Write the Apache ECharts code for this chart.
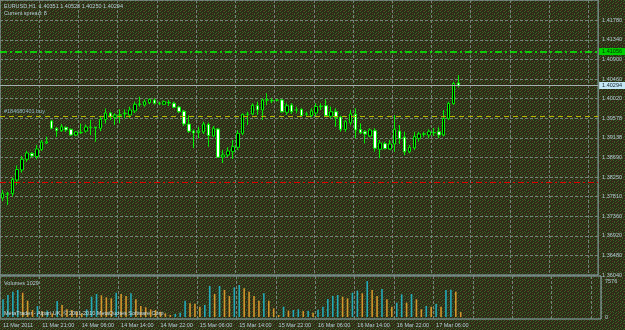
<!DOCTYPE html>
<html>
<head>
<meta charset="utf-8">
<script src="https://cdn.jsdelivr.net/npm/echarts@6/dist/echarts.min.js"></script>
<style>
html,body{margin:0;padding:0;background:#2e3118;}
#chart{width:625px;height:330px;}
</style>
</head>
<body>
<div id="chart"></div>
<script>
// ---------------- data ----------------
const SYMBOL = 'EURUSD,H1';
const SPREAD = 8;

const OPEN = [1.37769,1.37852,1.37870,1.38173,1.38398,1.38638,1.38768,1.38701,1.38858,1.39004,
1.39498,1.39334,1.39280,1.39356,1.39311,1.39183,1.39235,1.39273,1.39352,1.39358,
1.39334,1.39531,1.39677,1.39581,1.39626,1.39664,1.39632,1.39722,1.39868,1.39857,
1.39908,1.39969,1.39888,1.39873,1.39913,1.39895,1.39812,1.39715,1.39430,1.39273,
1.39235,1.39251,1.39419,1.39161,1.39318,1.38689,1.38734,1.38808,1.38907,1.39221,
1.39648,1.39655,1.39841,1.39745,1.39965,1.39958,1.39965,1.39969,1.39693,1.39857,
1.39740,1.39760,1.39648,1.39617,1.39677,1.39819,1.39841,1.39603,1.39706,1.39587,
1.39307,1.39459,1.39648,1.39307,1.39257,1.39161,1.39280,1.38862,1.38988,1.38869,
1.38981,1.39273,1.39132,1.38808,1.38891,1.39109,1.39201,1.39183,1.39230,1.39257,
1.39183,1.39549,1.39884,1.40351];

const HIGH = [1.37949,1.37910,1.38229,1.38499,1.38712,1.38831,1.38802,1.38959,1.39071,1.39145,
1.39520,1.39363,1.39430,1.39374,1.39329,1.39273,1.39441,1.39419,1.39520,1.39363,
1.39594,1.39778,1.39706,1.39670,1.39760,1.39760,1.39819,1.39931,1.40043,1.39985,
1.40003,1.40003,1.39931,1.39958,1.39969,1.39931,1.39841,1.39745,1.39621,1.39307,
1.39363,1.39482,1.39464,1.39385,1.39334,1.38847,1.38907,1.39071,1.39296,1.39670,
1.39706,1.39895,1.39931,1.40007,1.40119,1.40007,1.39985,1.39985,1.39895,1.39895,
1.39819,1.39783,1.39706,1.39783,1.39895,1.39895,1.39985,1.39819,1.39783,1.39610,
1.39520,1.39745,1.39783,1.39446,1.39296,1.39334,1.39334,1.39071,1.39033,1.39071,
1.39632,1.39408,1.39257,1.38959,1.39257,1.39257,1.39257,1.39311,1.39340,1.39356,
1.39745,1.39931,1.40380,1.40528];

const LOW = [1.37702,1.37612,1.37798,1.38061,1.38337,1.38577,1.38678,1.38644,1.38824,1.38981,
1.39311,1.39138,1.39251,1.39251,1.39161,1.39161,1.39206,1.39235,1.39183,1.39033,
1.39273,1.39441,1.39520,1.39408,1.39446,1.39558,1.39558,1.39677,1.39819,1.39819,
1.39879,1.39868,1.39857,1.39857,1.39834,1.39783,1.39677,1.39385,1.39228,1.38891,
1.39109,1.39206,1.38921,1.39132,1.38678,1.38555,1.38689,1.38644,1.38847,1.39183,
1.39408,1.39632,1.39632,1.39520,1.39857,1.39895,1.39931,1.39684,1.39632,1.39655,
1.39670,1.39594,1.39594,1.39581,1.39594,1.39745,1.39594,1.39558,1.39370,1.39257,
1.39257,1.39408,1.39109,1.39206,1.38997,1.39132,1.38808,1.38660,1.38858,1.38847,
1.38802,1.38981,1.38734,1.38772,1.38847,1.39033,1.39145,1.39109,1.39161,1.39109,
1.39154,1.39520,1.39857,1.40250];

const CLOSE = [1.37874,1.37870,1.38184,1.38409,1.38638,1.38779,1.38712,1.38869,1.39026,1.39033,
1.39334,1.39280,1.39370,1.39296,1.39183,1.39251,1.39244,1.39363,1.39363,1.39345,
1.39536,1.39677,1.39587,1.39632,1.39637,1.39673,1.39745,1.39873,1.39879,1.39931,
1.39985,1.39895,1.39895,1.39931,1.39904,1.39805,1.39706,1.39430,1.39266,1.39228,
1.39273,1.39430,1.39172,1.39334,1.38683,1.38734,1.38824,1.38921,1.39221,1.39648,
1.39655,1.39850,1.39745,1.39969,1.39974,1.39953,1.39969,1.39706,1.39841,1.39706,
1.39749,1.39617,1.39659,1.39722,1.39823,1.39828,1.39617,1.39706,1.39581,1.39311,
1.39482,1.39655,1.39296,1.39235,1.39206,1.39296,1.38885,1.39004,1.38880,1.38981,
1.39311,1.39098,1.38808,1.38907,1.39150,1.39206,1.39210,1.39257,1.39239,1.39183,
1.39554,1.39890,1.40339,1.40294];

const VOLUME = [3717,4629,5330,5681,5120,3437,1473,2314,1200,1350,
771,3366,2525,1613,1473,1122,771,1613,4278,4839,
4559,4138,3927,5120,4839,4418,4980,3717,2314,2034,
1613,1473,1122,771,421,631,912,3437,2876,2800,
2174,2525,6522,4839,6522,5681,4418,6242,6733,6032,
5330,4418,3437,4980,3437,1823,421,2174,1333,1473,
1613,1250,1333,912,1500,2174,3787,4418,4629,4278,
3927,5120,5540,4980,7576,5681,4418,5891,3717,2174,
3016,4769,3016,4839,3717,1613,2314,2174,2735,2174,
5681,5750,5330,1029];

const PRICE_TICKS = ['1.36040','1.36480','1.36920','1.37360','1.37810','1.38250','1.38690',
  '1.39138','1.39578','1.40020','1.40460','1.40900','1.41340','1.41780'];
const TIME_TICKS = ['11 Mar 2011','11 Mar 21:00','14 Mar 06:00','14 Mar 14:00','14 Mar 22:00',
  '15 Mar 06:00','15 Mar 14:00','15 Mar 22:00','16 Mar 06:00','16 Mar 14:00','16 Mar 22:00','17 Mar 06:00'];
const VOLUME_TICKS = ['0','7576'];

const TP_LEVEL = 1.41056, TP_LABEL = '1.41056';
const ORDER_LEVEL = 1.39603, ORDER_LABEL = '#184680401 buy';
const SL_LEVEL = 1.38121;
const BID_LEVEL = 1.40294, BID_LABEL = '1.40294';

// ---------------- axis settings ----------------
const BASE = 1.36040;      // price at the bottom of the price panel
const TOP = 1.42214;       // price at the top of the price panel
const STEP = 0.0044;       // price grid step
const VOL_MAX = 7576;
const SLOTS = 122;         // bar slots across the chart (incl. empty shift area)
const GRID_EVERY = 8, GRID_OFFSET = 4;

// categories: hourly bars (Fri 11 Mar 13:00-22:00, then from Mon 14 Mar 00:00)
const CATS = [];
(function(){
  for (let h = 13; h <= 22; h++) CATS.push('11 Mar ' + String(h).padStart(2,'0') + ':00');
  let d = 14, h = 0;
  while (CATS.length < OPEN.length) {
    CATS.push(d + ' Mar ' + String(h).padStart(2,'0') + ':00');
    h++; if (h === 24) { h = 0; d++; }
  }
  while (CATS.length < SLOTS) CATS.push('');
})();

const FONT = 'Liberation Sans';
const TXT = '#b4ccd6';
const FS = 5.5;

// background texture tile (dotted, like the terminal's chart background)
function makeTexture() {
  const rows = [
    'g..r.g..',
    '..g....g',
    '.r...g..',
    'g...g..r',
    '..g.....',
    '.g..r.g.',
    'r.....g.',
    '..g.g...'
  ];
  const cv = document.createElement('canvas');
  cv.width = 8; cv.height = 8;
  const ctx = cv.getContext('2d');
  ctx.fillStyle = '#2c2b17';
  ctx.fillRect(0, 0, 8, 8);
  rows.forEach((r, y) => {
    for (let x = 0; x < 8; x++) {
      if (r[x] === 'g') { ctx.fillStyle = '#3a6428'; ctx.fillRect(x, y, 1, 1); }
      else if (r[x] === 'r') { ctx.fillStyle = '#5e3622'; ctx.fillRect(x, y, 1, 1); }
    }
  });
  return cv;
}

const candleData = OPEN.map((o, i) => [o - BASE, CLOSE[i] - BASE, LOW[i] - BASE, HIGH[i] - BASE]);
const volData = VOLUME.map((v, i) => ({
  value: v,
  itemStyle: { color: (i === 0 || v > VOLUME[i - 1]) ? '#22a9ba' : '#d3952c' }
}));

const gridLine = { show: true, lineStyle: { color: '#74827a', type: [3, 2], width: 1 } };
const hidden = { axisLine: { show: false }, axisTick: { show: false }, axisLabel: { show: false } };

const chart = echarts.init(document.getElementById('chart'), null, { renderer: 'canvas' });
const last = OPEN.length - 1;
const f5 = v => v.toFixed(5);

const levelLabel = { fontSize: FS, fontFamily: FONT };

chart.setOption({
  animation: false,
  backgroundColor: { image: makeTexture(), repeat: 'repeat' },
  textStyle: { fontFamily: FONT },
  title: [
    { text: SYMBOL + '  ' + [OPEN[last], HIGH[last], LOW[last], CLOSE[last]].map(f5).join(' '),
      left: 4, top: 3, padding: 0, textStyle: { color: TXT, fontSize: FS, fontWeight: 'normal', fontFamily: FONT } },
    { text: 'Current spread: ' + SPREAD, left: 4, top: 10, padding: 0,
      textStyle: { color: TXT, fontSize: FS, fontWeight: 'normal', fontFamily: FONT } },
    { text: 'Volumes ' + VOLUME[last], left: 4, top: 280, padding: 0,
      textStyle: { color: TXT, fontSize: FS, fontWeight: 'normal', fontFamily: FONT } },
    { text: 'MetaTrader - Alpari UK, \u00a9 2001-2010 MetaQuotes Software Corp.', left: 4, top: 310, padding: 0,
      textStyle: { color: '#c8dce4', fontSize: FS, fontWeight: 'normal', fontFamily: FONT } }
  ],
  grid: [
    { left: 0, right: 24, top: 0, height: 275, show: true, borderColor: '#8fb0b8', borderWidth: 1, backgroundColor: 'transparent' },
    { left: 0, right: 24, top: 281, height: 36 },
    { left: 0, right: 24, top: 276, height: 43, show: true, borderColor: '#8fb0b8', borderWidth: 1, backgroundColor: 'transparent' }
  ],
  xAxis: [
    Object.assign({ type: 'category', gridIndex: 0, data: CATS, boundaryGap: true, splitLine: { show: false } }, hidden),
    Object.assign({ type: 'value', gridIndex: 0, min: -GRID_OFFSET - 0.5, max: SLOTS - GRID_OFFSET - 0.5,
      interval: GRID_EVERY, splitLine: gridLine }, hidden),
    { type: 'category', gridIndex: 1, data: CATS, boundaryGap: true,
      axisLine: { show: false }, axisTick: { show: false }, splitLine: { show: false },
      axisLabel: { show: true, interval: (i) => i % GRID_EVERY === 0 && (i / GRID_EVERY) < TIME_TICKS.length,
        formatter: (v, i) => TIME_TICKS[i / GRID_EVERY] || '', align: 'left', margin: 5,
        color: TXT, fontSize: FS, fontFamily: FONT } },
    Object.assign({ type: 'value', gridIndex: 2, min: -GRID_OFFSET - 0.5, max: SLOTS - GRID_OFFSET - 0.5,
      interval: GRID_EVERY, splitLine: gridLine }, hidden)
  ],
  yAxis: [
    { type: 'value', gridIndex: 0, position: 'right', min: 0, max: TOP - BASE, interval: STEP,
      axisLine: { show: false }, axisTick: { show: false }, splitLine: gridLine,
      axisLabel: { show: true, margin: 4, color: TXT, fontSize: FS, fontFamily: FONT,
        formatter: (v) => { const k = Math.round(v / STEP); return Math.abs(v - k * STEP) < 1e-7 ? (PRICE_TICKS[k] || '') : ''; } } },
    { type: 'value', gridIndex: 1, position: 'right', min: 0, max: VOL_MAX, interval: VOL_MAX,
      axisLine: { show: false }, axisTick: { show: false }, splitLine: { show: false },
      axisLabel: { show: true, margin: 4, color: TXT, fontSize: FS, fontFamily: FONT,
        formatter: (v) => v === 0 ? VOLUME_TICKS[0] : (v === VOL_MAX ? VOLUME_TICKS[1] : '') } },
    Object.assign({ type: 'value', gridIndex: 2, min: 0, max: 1, splitLine: { show: false } }, hidden)
  ],
  series: [
    { type: 'candlestick', xAxisIndex: 0, yAxisIndex: 0, data: candleData, barWidth: 3,
      itemStyle: { color: '#000000', color0: '#ffffff', borderColor: '#00ee00', borderColor0: '#00ee00', borderWidth: 1 },
      markLine: {
        silent: true, symbol: ['none', 'none'], animation: false, precision: 6,
        data: [
          { name: 'sl', yAxis: SL_LEVEL - BASE, lineStyle: { color: '#e00000', type: [6, 3, 2, 3], width: 1.2 },
            label: { show: false } },
          { name: 'order', yAxis: ORDER_LEVEL - BASE, lineStyle: { color: '#b4b400', type: [5, 4], width: 1 },
            label: Object.assign({ show: true, position: 'insideStartTop', distance: [4, 2], formatter: ORDER_LABEL,
              color: '#8fb2c6' }, levelLabel) },
          { name: 'bid', yAxis: BID_LEVEL - BASE, lineStyle: { color: '#a4b0b0', type: 'solid', width: 1 },
            label: Object.assign({ show: true, position: 'end', distance: 1, formatter: BID_LABEL, backgroundColor: '#c4e6f4',
              color: '#10202a', padding: [1, 3, 0, 3] }, levelLabel) },
          { name: 'tp', yAxis: TP_LEVEL - BASE, lineStyle: { color: '#00ff00', type: [7, 3, 2, 3], width: 1.5, opacity: 1 },
            label: Object.assign({ show: true, position: 'end', distance: 1, formatter: TP_LABEL, backgroundColor: '#00d000',
              color: '#003000', padding: [1, 3, 0, 3] }, levelLabel) }
        ]
      }
    },
    { type: 'bar', xAxisIndex: 2, yAxisIndex: 1, data: volData, barWidth: 1.6 }
  ]
});
</script>
</body>
</html>
